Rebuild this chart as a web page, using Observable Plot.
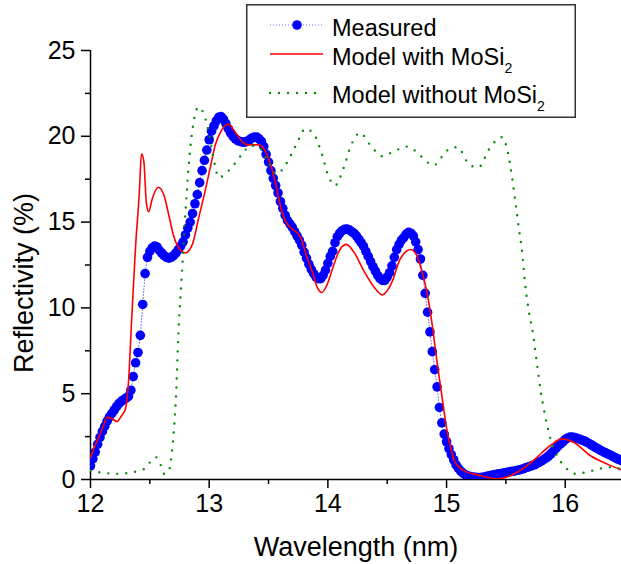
<!DOCTYPE html>
<html>
<head>
<meta charset="utf-8">
<script src="https://cdn.jsdelivr.net/npm/d3@7"></script>
<script src="https://cdn.jsdelivr.net/npm/@observablehq/plot@0.6"></script>
<style>
  html, body { margin: 0; padding: 0; background: #fff; }
  #wrap { position: relative; width: 621px; height: 564px; overflow: hidden; }
  #legend { position: absolute; left: 246px; top: 4px; }
</style>
</head>
<body>
<div id="wrap">
  <div id="chart"></div>
  <svg id="legend" width="330" height="114" font-family="Arial, 'Liberation Sans', sans-serif">
    <rect x="0.75" y="0.75" width="328.5" height="112.5" fill="#fff" stroke="#333" stroke-width="1.5"></rect>
    <line x1="24" x2="77" y1="21" y2="21" stroke="#7070ff" stroke-width="1" stroke-dasharray="1,2"></line>
    <circle cx="51" cy="21" r="4.8" fill="#0000ff"></circle>
    <text x="86" y="32" font-size="23.5" fill="#000">Measured</text>
    <line x1="24" x2="77" y1="50" y2="50" stroke="#ff0000" stroke-width="1.5"></line>
    <text x="86" y="61" font-size="23.5" fill="#000">Model with MoSi<tspan font-size="14" dy="8">2</tspan></text>
    <line x1="24" x2="77" y1="89" y2="89" stroke="#0a8a0a" stroke-width="2.4" stroke-dasharray="0,9" stroke-linecap="round"></line>
    <text x="86" y="99" font-size="23.5" fill="#000">Model without MoSi<tspan font-size="14" dy="8">2</tspan></text>
  </svg>
</div>
<script>
// Measured reflectivity (%), one value every 0.02 nm from 12.00 nm
const measuredStart = 12.0;
const measuredStep = 0.02;
const measured = [
  0.8, 1.2, 1.6, 2.05, 2.45, 2.8, 3.1, 3.4, 3.65, 3.85,
  4.05, 4.25, 4.43, 4.55, 4.65, 4.75, 4.85, 5.2, 6.0, 6.8,
  7.4, 8.4, 10.2, 12.0, 12.95, 13.3, 13.5, 13.6, 13.55, 13.35,
  13.2, 13.05, 12.95, 12.9, 12.95, 13.05, 13.2, 13.4, 13.6, 13.85,
  14.25, 14.65, 15.0, 15.5, 16.07, 16.6, 17.3, 18.0, 18.6, 19.2,
  19.8, 20.3, 20.6, 20.9, 21.1, 21.15, 21.0, 20.75, 20.45, 20.2,
  20.0, 19.85, 19.75, 19.7, 19.66, 19.66, 19.7, 19.8, 19.9, 19.95,
  19.95, 19.85, 19.7, 19.4, 18.95, 18.5, 18.0, 17.55, 17.13, 16.7,
  16.2, 15.8, 15.4, 15.1, 14.9, 14.7, 14.45, 14.2, 13.95, 13.65,
  13.25, 12.9, 12.55, 12.25, 12.0, 11.8, 11.7, 11.7, 11.9, 12.2,
  12.6, 13.0, 13.3, 13.8, 14.15, 14.35, 14.5, 14.58, 14.6, 14.55,
  14.45, 14.35, 14.2, 14.0, 13.8, 13.6, 13.3, 13.0, 12.7, 12.4,
  12.15, 11.9, 11.7, 11.6, 11.6, 11.8, 12.05, 12.45, 12.95, 13.4,
  13.7, 13.95, 14.1, 14.3, 14.4, 14.35, 14.2, 13.85, 13.4, 12.85,
  11.9, 10.85, 9.75, 8.6, 7.45, 6.4, 5.4, 4.2, 3.3, 2.65,
  2.2, 1.8, 1.45, 1.15, 0.85, 0.65, 0.48, 0.36, 0.27, 0.21,
  0.17, 0.15, 0.13, 0.12, 0.12, 0.13, 0.15, 0.18, 0.21, 0.24,
  0.28, 0.31, 0.33, 0.35, 0.38, 0.4, 0.43, 0.46, 0.48, 0.51,
  0.54, 0.57, 0.61, 0.66, 0.71, 0.76, 0.81, 0.86, 0.93, 1.0,
  1.08, 1.17, 1.26, 1.37, 1.5, 1.65, 1.8, 1.95, 2.08, 2.2,
  2.33, 2.42, 2.47, 2.47, 2.44, 2.4, 2.35, 2.3, 2.25, 2.18,
  2.1, 2.02, 1.93, 1.85, 1.77, 1.69, 1.62, 1.55, 1.48, 1.42,
  1.35, 1.28, 1.21, 1.15, 1.08
];

// Model with MoSi2: wavelength (nm) and reflectivity (%)
const withWl = [12.00, 12.04, 12.07, 12.11, 12.14, 12.18, 12.225, 12.26, 12.295, 12.32,
  12.35, 12.38, 12.41, 12.43, 12.45, 12.47, 12.49, 12.52, 12.57, 12.62,
  12.66, 12.70, 12.76, 12.80, 12.86, 12.91, 12.97, 13.025, 13.05, 13.10,
  13.16, 13.22, 13.28, 13.33, 13.42, 13.47, 13.52, 13.56, 13.60, 13.64,
  13.70, 13.77, 13.81, 13.87, 13.91, 13.95, 13.99, 14.04, 14.09, 14.155,
  14.22, 14.30, 14.39, 14.46, 14.54, 14.61, 14.70, 14.75, 14.79, 14.84,
  14.88, 14.92, 14.96, 15.00, 15.03, 15.065, 15.145, 15.285, 15.43, 15.57,
  15.73, 15.875, 15.97, 16.07, 16.21, 16.35, 16.47];
const withR = [1.3, 2.0, 2.47, 3.15, 3.63, 3.54, 3.38, 3.7, 4.12, 5.67,
  9.75, 13.6, 16.55, 18.98, 18.5, 16.16, 15.6, 16.35, 17.03, 16.55,
  15.4, 14.2, 13.35, 13.2, 13.73, 15.2, 16.94, 18.7, 19.46, 20.3,
  20.7, 20.24, 19.66, 19.5, 19.5, 19.17, 18.3, 17.23, 15.97, 15.1,
  14.6, 14.12, 13.25, 12.08, 11.2, 10.9, 11.3, 12.3, 13.25, 13.7,
  13.25, 12.2, 11.2, 10.76, 11.5, 12.86, 13.4, 13.05, 12.18, 10.72,
  8.97, 6.84, 4.9, 3.0, 2.0, 1.1, 0.52, 0.23, 0.04, 0.33,
  1.1, 1.98, 2.37, 2.17, 1.4, 0.91, 0.57];

// Model without MoSi2: wavelength (nm) and reflectivity (%)
const withoutWl = [12.00, 12.10, 12.22, 12.35, 12.45, 12.55, 12.60, 12.62, 12.66, 12.69,
  12.72, 12.74, 12.77, 12.80, 12.83, 12.86, 12.91, 12.96, 13.00, 13.04,
  13.08, 13.165, 13.28, 13.35, 13.42, 13.49, 13.57, 13.64, 13.73, 13.81,
  13.88, 13.94, 14.01, 14.06, 14.13, 14.20, 14.27, 14.37, 14.46, 14.54,
  14.67, 14.75, 14.82, 14.89, 14.96, 15.03, 15.09, 15.20, 15.27, 15.36,
  15.47, 15.51, 15.55, 15.58, 15.61, 15.64, 15.66, 15.69, 15.73, 15.76,
  15.79, 15.83, 15.875, 15.93, 16.00, 16.09, 16.23, 16.37, 16.47];
const withoutR = [0.52, 0.4, 0.33, 0.42, 0.6, 1.3, 0.7, 0.33, 0.5, 1.88,
  4.8, 8.4, 12.0, 15.58, 18.5, 20.44, 21.7, 21.2, 20.1, 18.6,
  17.6, 18.0, 18.98, 19.46, 19.37, 18.6, 17.8, 18.3, 19.46, 20.44,
  20.15, 19.17, 17.6, 17.13, 18.1, 19.56, 20.2, 19.37, 18.84, 19.07,
  19.4, 19.07, 18.6, 18.3, 18.8, 19.3, 19.37, 18.3, 18.2, 19.27,
  19.95, 19.27, 17.7, 16.16, 14.6, 13.05, 11.5, 9.95, 8.4, 6.84,
  5.29, 3.73, 2.37, 1.4, 0.72, 0.33, 0.52, 0.72, 0.62];

const xMajor = [12, 13, 14, 15, 16];
const xMinor = [12.5, 13.5, 14.5, 15.5, 16.5];
const yMajor = [0, 5, 10, 15, 20, 25];
const yMinor = [2.5, 7.5, 12.5, 17.5, 22.5];
const xTitle = "Wavelength (nm)";
const yTitle = "Reflectivity (%)";

const measuredData = measured.map((v, i) => ({x: measuredStart + i * measuredStep, y: v}));
const withData = withWl.map((x, i) => ({x, y: withR[i]}));
const withoutData = withoutWl.map((x, i) => ({x, y: withoutR[i]}));

const chart = Plot.plot({
  width: 621,
  height: 564,
  marginLeft: 90,
  marginRight: 0,
  marginTop: 50,
  marginBottom: 85,
  style: {fontFamily: "Arial, 'Liberation Sans', sans-serif", fontSize: "25px", color: "#000", background: "#fff", overflow: "visible"},
  x: {domain: [12, 16.474]},
  y: {domain: [0, 25]},
  marks: [
    Plot.axisX(xMajor, {tickSize: 9, tickPadding: 6, tickFormat: d => String(d), label: null, strokeWidth: 1.5, fontSize: 25}),
    Plot.axisX(xMinor.filter(d => d <= 16.474), {tickSize: 5, tickFormat: () => "", label: null, strokeWidth: 1.5}),
    Plot.axisY(yMajor, {tickSize: 9, tickPadding: 6, tickFormat: d => String(d), label: null, strokeWidth: 1.5, fontSize: 25}),
    Plot.axisY(yMinor, {tickSize: 5, tickFormat: () => "", label: null, strokeWidth: 1.5}),
    Plot.axisX({ticks: [], label: xTitle, labelAnchor: "center", labelArrow: "none", labelOffset: 76, fontSize: 27}),
    Plot.text([yTitle], {frameAnchor: "left", text: d => d, rotate: -90, dx: -66, dy: 18, fontSize: 27, lineAnchor: "middle", textAnchor: "middle", fill: "#000"}),
    Plot.ruleX([12], {stroke: "#000", strokeWidth: 1.5}),
    Plot.ruleY([0], {stroke: "#000", strokeWidth: 1.5}),
    Plot.line(measuredData, {x: "x", y: "y", stroke: "#7070ff", strokeWidth: 1, strokeDasharray: "1,2", clip: true}),
    Plot.dot(measuredData, {x: "x", y: "y", r: 4.8, fill: "#0000ff", stroke: "none", clip: true}),
    Plot.line(withData, {x: "x", y: "y", stroke: "#ff0000", strokeWidth: 1.6, curve: "monotone-x", clip: true}),
    Plot.line(withoutData, {x: "x", y: "y", stroke: "#0a8a0a", strokeWidth: 2.4, strokeDasharray: "0,9", strokeLinecap: "round", curve: "monotone-x", clip: true})
  ]
});
document.getElementById("chart").appendChild(chart);
</script>
</body>
</html>
